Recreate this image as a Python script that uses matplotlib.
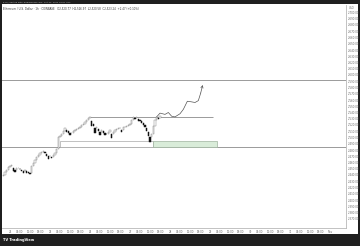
import matplotlib
matplotlib.use('Agg')
import matplotlib.pyplot as plt
from matplotlib.patches import Rectangle

# hourly closes (ETH/USD, 1h), hour 0 = midnight of first labelled day
hours_start = -4
closes = [2440, 2445, 2448, 2453, 2454, 2456, 2451, 2448, 2451, 2451,
          2450, 2448, 2446, 2448, 2446, 2445, 2443, 2454, 2459, 2464,
          2469, 2472, 2475, 2477, 2478, 2477, 2474, 2470, 2470, 2469,
          2472, 2475, 2482, 2501, 2502, 2506, 2510, 2515, 2512, 2510,
          2507, 2507, 2510, 2512, 2514, 2515, 2517, 2520, 2522, 2525,
          2528, 2531, 2533, 2526, 2522, 2515, 2517, 2514, 2509, 2512,
          2510, 2507, 2506, 2509, 2512, 2506, 2509, 2512, 2514, 2515,
          2515, 2512, 2517, 2517, 2518, 2520, 2522, 2528, 2533, 2531,
          2533, 2530, 2528, 2526, 2523, 2520, 2515, 2509, 2501, 2506,
          2518, 2528, 2533, 2531, 2534]
first_open = 2438

resistance = 2592
support = 2485
range_top = 2533
range_top_span = (48, 122)
zone_low, zone_high = 2485, 2494
white_zone = (30, 86)
green_zone = (86, 124)

proj_h = [88, 90, 93, 95, 97, 99, 102, 104, 106.4, 109, 111, 113, 114.4, 115.6]
proj_p = [2533, 2539, 2537, 2540, 2534, 2533, 2538, 2545, 2558, 2557, 2556, 2559, 2571, 2584]

price_ticks = list(range(2370, 2710, 10))
day_labels = ['24', '25', '26', '27', '28', '29', '30', '31', 'Nov']
hour_labels = ['06:00', '12:00', '18:00']

W, H = 360, 246
fig = plt.figure(figsize=(W / 100, H / 100), dpi=100, facecolor='#1f1f1f')

def fx(px): return px / W
def fy(py): return 1 - py / H

# white chart background
bg = fig.add_axes([fx(2), fy(234), fx(356), (234 - 4) / H], zorder=-5)
bg.set_facecolor('white')
bg.axis('off')
bg.add_patch(Rectangle((0, 0), 1, 1, transform=bg.transAxes, facecolor='white', edgecolor='none'))

ax = fig.add_axes([fx(2), fy(228), fx(344), (228 - 5) / H], zorder=1)
ax.patch.set_alpha(0)
ax.set_xlim(-4.8, 201.6)
ax.set_ylim(2355.2, 2712)

for s in ['top', 'left']:
    ax.spines[s].set_visible(False)
for s in ['right', 'bottom']:
    ax.spines[s].set_color('#b8b8b8')
    ax.spines[s].set_linewidth(0.6)

ax.yaxis.tick_right()
ax.set_yticks(price_ticks)
ax.set_yticklabels([f'{p:,.2f}' for p in price_ticks])
ax.tick_params(axis='y', length=0, pad=1.5, labelsize=1.9, labelcolor='#666666')

xt, xl = [], []
for d, day in enumerate(day_labels):
    xt.append(d * 24); xl.append(day)
    if d < len(day_labels) - 1:
        for k, hl in enumerate(hour_labels):
            xt.append(d * 24 + 6 * (k + 1)); xl.append(hl)
ax.set_xticks(xt)
ax.set_xticklabels(xl)
ax.tick_params(axis='x', length=0, pad=1.2, labelsize=1.9, labelcolor='#666666')

# levels
ax.axhline(resistance, color='#9a9a9a', lw=0.7)
ax.axhline(support, color='#9a9a9a', lw=0.7)
ax.hlines(range_top, *range_top_span, color='#9a9a9a', lw=0.7)

ax.add_patch(Rectangle((white_zone[0], zone_low), white_zone[1] - white_zone[0],
                       zone_high - zone_low, facecolor='white',
                       edgecolor='#a8a8a8', lw=0.5, zorder=2))
ax.add_patch(Rectangle((green_zone[0], zone_low), green_zone[1] - green_zone[0],
                       zone_high - zone_low, facecolor='#d9ecd9',
                       edgecolor='#9fb39f', lw=0.5, zorder=2))

# candles
prev = first_open
for i, c in enumerate(closes):
    h = hours_start + i
    o = prev
    up = c >= o
    ax.bar(h, c - o if c != o else 0.6, bottom=min(o, c), width=0.7,
           facecolor='white' if up else '#111111',
           edgecolor='#8a8a8a' if up else '#111111', linewidth=0.35, zorder=3)
    prev = c

# projected path
ax.plot(proj_h[:-1], proj_p[:-1], color='#555555', lw=0.5, zorder=4)
ax.annotate('', xy=(proj_h[-1], proj_p[-1]), xytext=(proj_h[-2], proj_p[-2]),
            arrowprops=dict(arrowstyle='->', color='#555555', lw=0.5,
                            mutation_scale=4, shrinkA=0, shrinkB=0), zorder=4)

# texts
fig.text(fx(349), fy(8), 'USD', fontsize=1.9, color='#666666', va='center')
fig.text(fx(3), fy(8.5),
         'Ethereum / U.S. Dollar · 1h · COINBASE   O2,520.77  H2,526.97  L2,520.58  C2,523.24  +2.47 (+0.10%)',
         fontsize=1.9, color='#333333', va='center')
fig.text(fx(3), fy(2), 'ETH_created with TradingView.com, Oct 31, 2024 19:07 UTC',
         fontsize=1.6, color='#bbbbbb', va='center')
fig.text(fx(3), fy(240), '𝗧𝗩 TradingView', fontsize=2.6, color='white',
         va='center', fontweight='bold', family=['DejaVu Sans'])

fig.savefig('out.png', dpi=100, facecolor=fig.get_facecolor())
